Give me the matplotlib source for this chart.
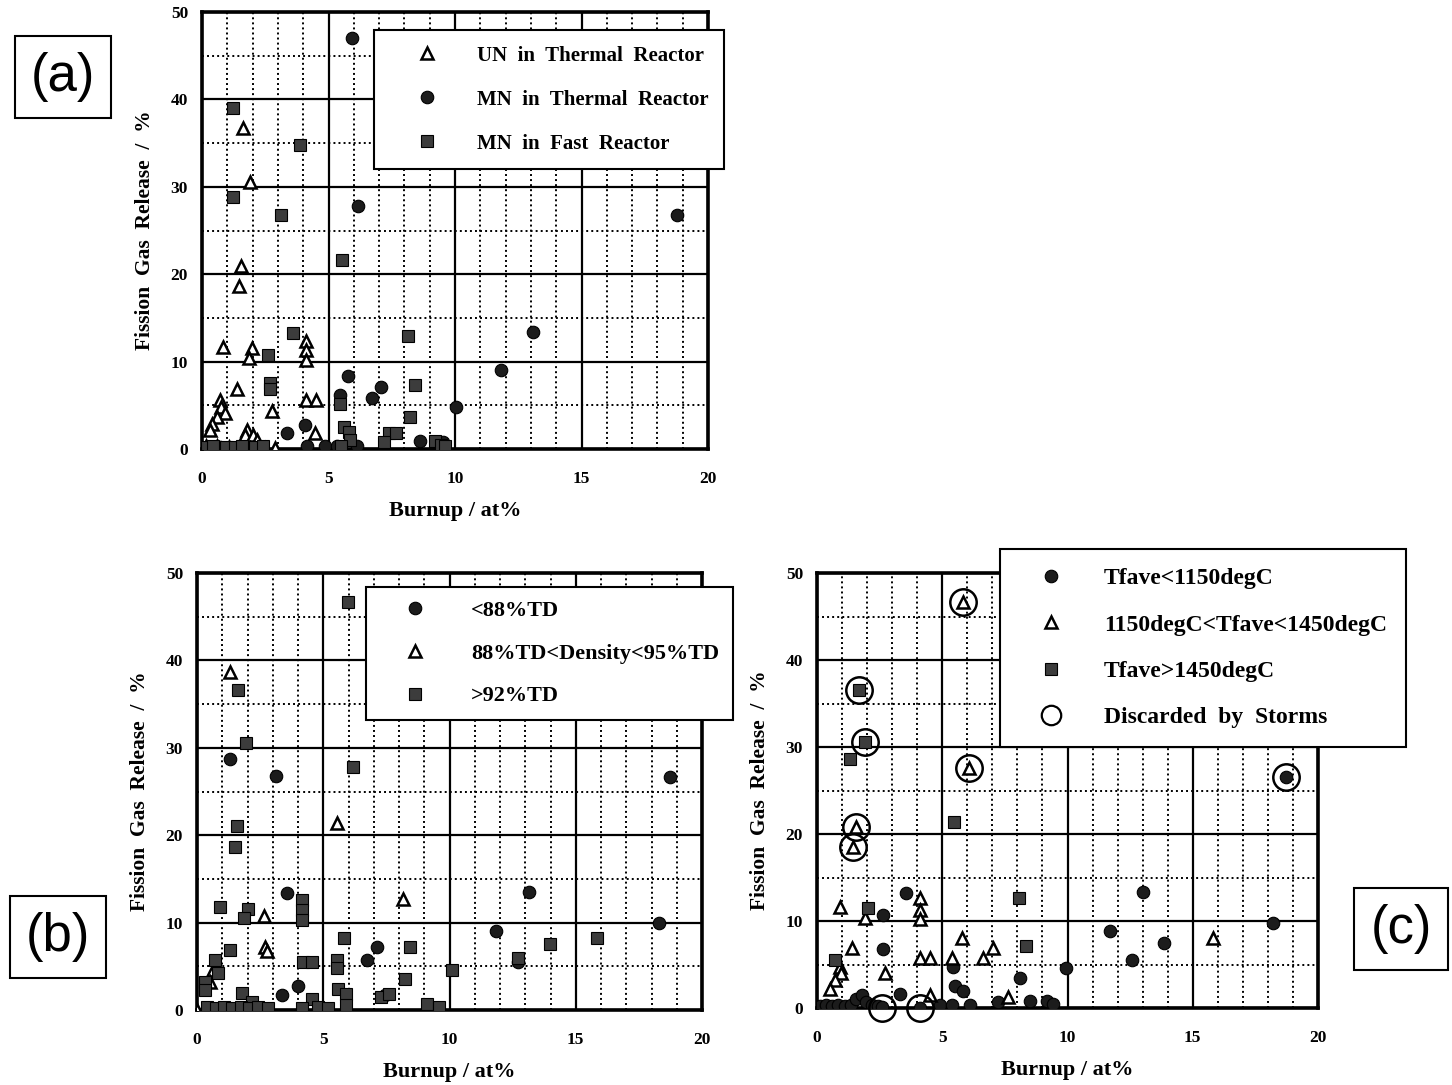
import numpy as np
import matplotlib.pyplot as plt
from matplotlib.lines import Line2D

plt.rcParams['font.family'] = ['Liberation Serif', 'DejaVu Serif']
plt.rcParams['font.weight'] = 'bold'
plt.rcParams['axes.labelweight'] = 'bold'

# ---- panel (a): fuel type / reactor ----
un_th_x = [1.63, 1.90, 1.53, 1.47, 0.84, 1.99, 1.87, 4.11, 4.11, 4.11, 1.37, 2.75,
           4.11, 4.50, 0.71, 0.77, 0.91, 0.58, 0.38, 0.32, 4.47, 1.77, 1.70, 2.03,
           2.16, 1.44, 1.90, 2.49, 2.88, 0.15, 0.60, 1.05]
un_th_y = [36.7, 30.6, 20.9, 18.6, 11.7, 11.5, 10.4, 12.4, 11.3, 10.2, 6.9, 4.3,
           5.6, 5.6, 5.6, 4.8, 4.1, 3.7, 2.9, 2.2, 1.8, 2.2, 1.6, 1.6,
           1.0, 0.1, 0.1, 0.1, 0.1, 0.3, 0.4, 0.2]
mn_th_x = [5.94, 6.15, 18.76, 13.10, 11.80, 10.04, 5.78, 7.06, 6.70, 5.45, 4.07,
           3.35, 4.14, 4.86, 5.32, 6.11, 8.62, 9.54, 0.30, 0.70]
mn_th_y = [47.0, 27.8, 26.8, 13.4, 9.0, 4.8, 8.3, 7.1, 5.8, 6.2, 2.7,
           1.8, 0.3, 0.3, 0.3, 0.3, 0.9, 0.8, 0.2, 0.2]
mn_fr_x = [1.24, 3.87, 1.24, 3.11, 5.52, 3.61, 8.15, 2.62, 8.42, 2.69, 2.69, 5.45,
           8.22, 5.60, 5.80, 5.85, 7.40, 7.65, 7.20, 9.20, 9.45, 0.20, 0.45, 0.95,
           1.30, 1.60, 2.10, 2.40, 5.50, 9.60]
mn_fr_y = [39.0, 34.8, 28.8, 26.8, 21.6, 13.3, 12.9, 10.8, 7.3, 7.5, 6.9, 5.2,
           3.7, 2.5, 2.0, 1.0, 1.8, 1.8, 0.8, 0.9, 0.5, 0.2, 0.3, 0.2,
           0.2, 0.3, 0.2, 0.3, 0.3, 0.4]

# ---- panel (b): fuel density ----
low_x = [1.31, 3.12, 3.55, 7.11, 6.72, 4.01, 3.35, 18.73, 13.16, 11.83, 18.30,
         7.45, 12.72]
low_y = [28.7, 26.8, 13.35, 7.2, 5.7, 2.7, 1.7, 26.7, 13.5, 9.0, 10.0,
         1.7, 5.5]
mid_x = [1.31, 5.53, 8.17, 2.67, 2.69, 2.76, 0.65, 0.51, 0.00]
mid_y = [38.7, 21.4, 12.7, 10.8, 7.2, 6.7, 4.6, 3.2, 0.0]
high_x = [5.99, 1.64, 1.94, 6.19, 1.57, 1.50, 0.91, 2.03, 1.87, 4.15, 4.15, 4.15,
          1.31, 5.83, 8.44, 10.09, 5.53, 5.53, 4.21, 4.54, 4.54, 8.24, 5.60, 5.90,
          5.90, 7.30, 7.60, 9.10, 9.60, 13.98, 15.83, 12.72, 0.71, 0.85, 0.32,
          0.32, 1.77, 2.17, 0.40, 0.75, 1.05, 1.40, 1.75, 2.05, 2.40, 2.80, 4.15,
          4.80, 5.20]
high_y = [46.7, 36.6, 30.6, 27.8, 21.05, 18.7, 11.8, 11.6, 10.5, 12.6, 11.4, 10.3,
          6.9, 8.2, 7.25, 4.6, 5.7, 4.8, 5.5, 5.5, 1.3, 3.6, 2.4, 1.8,
          0.6, 1.5, 1.8, 0.7, 0.4, 7.6, 8.2, 6.0, 5.7, 4.2, 3.2,
          2.3, 1.9, 0.95, 0.3, 0.2, 0.3, 0.2, 0.3, 0.2, 0.3, 0.2, 0.2,
          0.3, 0.2]

# ---- panel (c): average fuel temperature ----
t_low_x = [3.55, 2.62, 2.65, 3.31, 8.10, 5.42, 5.50, 5.84, 9.94, 13.03, 11.70,
           13.87, 12.56, 18.20, 18.72, 4.90, 5.38, 6.10, 7.24, 8.50, 9.20, 9.43,
           0.10, 0.35, 0.60, 0.85, 1.10, 1.35, 1.55, 1.78, 1.95, 2.20, 2.45, 2.60,
           4.11]
t_low_y = [13.2, 10.7, 6.8, 1.6, 3.4, 4.75, 2.5, 2.0, 4.6, 13.3, 8.8,
           7.5, 5.5, 9.8, 26.6, 0.3, 0.3, 0.3, 0.7, 0.8, 0.8, 0.5,
           0.2, 0.3, 0.2, 0.4, 0.2, 0.3, 1.0, 1.5, 0.7, 0.3, 0.2, 0.1,
           0.0]
t_mid_x = [0.92, 4.11, 4.11, 4.11, 1.92, 1.38, 5.78, 7.01, 2.71, 4.11, 4.51, 5.38,
           6.64, 7.64, 4.51, 15.80, 0.90, 0.95, 0.70, 0.50, 5.84, 6.08, 1.56, 1.45]
t_mid_y = [11.6, 12.6, 11.3, 10.2, 10.3, 6.9, 8.0, 6.9, 4.0, 5.7, 5.7, 5.7,
           5.7, 1.3, 1.5, 8.0, 4.7, 4.0, 3.2, 2.2, 46.7, 27.6, 20.8, 18.5]
t_high_x = [1.32, 5.47, 8.08, 2.05, 8.34, 0.72, 1.69, 1.92]
t_high_y = [28.6, 21.4, 12.6, 11.5, 7.1, 5.5, 36.6, 30.6]
storms_x = [5.84, 1.69, 1.92, 6.08, 1.56, 1.45, 18.72, 4.11, 2.60]
storms_y = [46.7, 36.6, 30.6, 27.6, 20.8, 18.5, 26.6, 0.0, 0.0]

W, H = 1452, 1085
fig = plt.figure(figsize=(W / 100, H / 100), dpi=100)

tri = dict(ls='none', marker='^', ms=9, mfc='white', mec='black', mew=1.8)
dot = dict(ls='none', marker='o', ms=9, mfc='#1c1c1c', mec='black', mew=0.8)
box = dict(ls='none', marker='s', ms=9, mfc='#3c3c3c', mec='black', mew=0.8)
ring = dict(ls='none', marker='o', ms=19, mfc='none', mec='black', mew=1.8)


def make_axes(left, top, right, bottom):
    ax = fig.add_axes([left / W, 1 - bottom / H, (right - left) / W, (bottom - top) / H])
    ax.set_xlim(0, 20)
    ax.set_ylim(0, 50)
    ax.set_xticks(np.arange(0, 21, 5))
    ax.set_xticks(np.arange(0, 21, 1), minor=True)
    ax.set_yticks(np.arange(0, 51, 10))
    ax.set_yticks(np.arange(0, 51, 5), minor=True)
    ax.grid(which='major', color='black', lw=1.6)
    ax.grid(which='minor', color='black', lw=1.4, ls=(0, (1, 1.6)))
    ax.tick_params(which='both', length=0)
    ax.tick_params(axis='x', pad=16, labelsize=12.5)
    ax.tick_params(axis='y', pad=10, labelsize=12.5)
    for s in ax.spines.values():
        s.set_linewidth(2.6)
    ax.set_axisbelow(True)
    ax.set_xlabel('Burnup / at%', fontsize=16, labelpad=10)
    ax.set_ylabel('Fission  Gas  Release  /  %', fontsize=15.5, labelpad=11)
    return ax


def add_legend(ax, handles, labels, x0, y0, size, spacing, hlen, tpad, bpad=0.6):
    leg = ax.legend(handles, labels, loc='upper left',
                    bbox_to_anchor=(x0 / W, 1 - y0 / H), bbox_transform=fig.transFigure,
                    fontsize=size, frameon=True, fancybox=False, framealpha=1,
                    edgecolor='black', borderpad=bpad, labelspacing=spacing,
                    handlelength=hlen, handletextpad=tpad, borderaxespad=0)
    leg.get_frame().set_linewidth(1.5)
    leg.set_zorder(10)
    return leg


# (a)
ax_a = make_axes(202, 12, 708, 449)
h1, = ax_a.plot(un_th_x, un_th_y, **tri, zorder=3)
h2, = ax_a.plot(mn_th_x, mn_th_y, **dot, zorder=3)
h3, = ax_a.plot(mn_fr_x, mn_fr_y, **box, zorder=3)
add_legend(ax_a, [h1, h2, h3],
           ['UN  in  Thermal  Reactor', 'MN  in  Thermal  Reactor', 'MN  in  Fast  Reactor'],
           374, 30, 15, 1.15, 3.6, 0.6, bpad=0.75)

# (b)
ax_b = make_axes(197, 573, 702, 1010)
g1, = ax_b.plot(low_x, low_y, **dot, zorder=3)
g2, = ax_b.plot(mid_x, mid_y, **tri, zorder=3)
g3, = ax_b.plot(high_x, high_y, **box, zorder=3)
add_legend(ax_b, [g1, g2, g3],
           ['<88%TD', '88%TD<Density<95%TD', '>92%TD'],
           366, 587, 16, 1.0, 3.2, 0.93)

# (c)
ax_c = make_axes(817, 573, 1318, 1008)
k1, = ax_c.plot(t_low_x, t_low_y, **dot, zorder=3)
k2, = ax_c.plot(t_mid_x, t_mid_y, **tri, zorder=3)
k3, = ax_c.plot(t_high_x, t_high_y, **box, zorder=3)
ax_c.plot(storms_x, storms_y, **ring, zorder=4, clip_on=False)
k4 = Line2D([], [], ls='none', marker='o', ms=14, mfc='white', mec='black', mew=1.6)
add_legend(ax_c, [k1, k2, k3, k4],
           ['Tfave<1150degC', '1150degC<Tfave<1450degC', 'Tfave>1450degC',
            'Discarded  by  Storms'],
           1000, 549, 17, 1.05, 2.7, 0.9, bpad=0.8)

# panel tags
for txt, x, y in [('(a)', 63, 77), ('(b)', 58, 937), ('(c)', 1401, 929)]:
    fig.text(x / W, 1 - y / H, txt, ha='center', va='center', fontsize=38,
             fontweight='normal', family='Liberation Sans',
             bbox=dict(boxstyle='square,pad=0.3', fc='white', ec='black', lw=1.5))

fig.savefig('out.png', dpi=100)
